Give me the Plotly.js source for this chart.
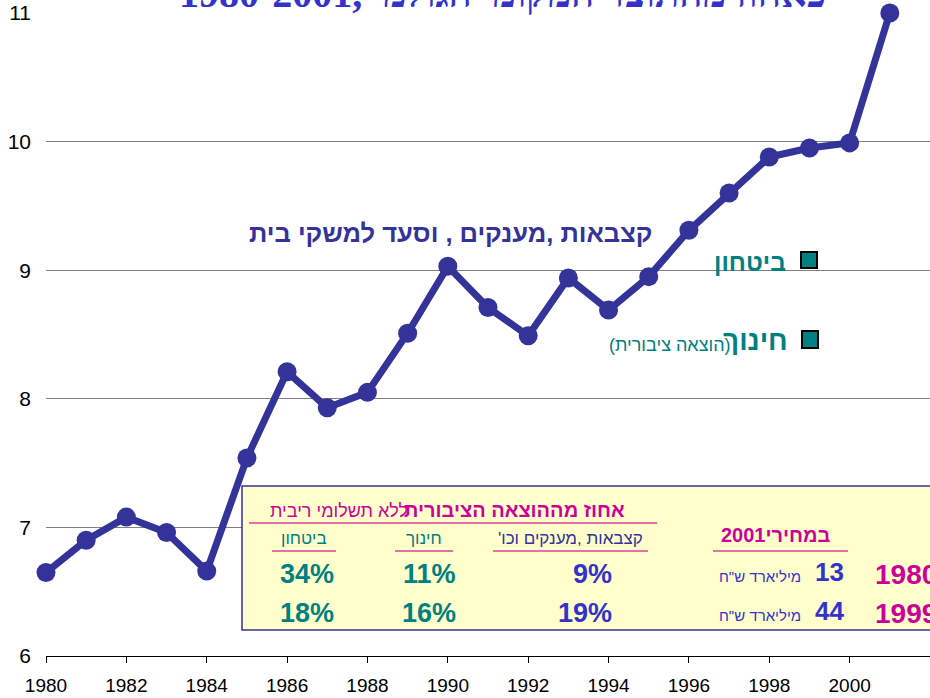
<!DOCTYPE html>
<html>
<head>
<meta charset="utf-8">
<script src="https://cdn.plot.ly/plotly-3.0.1.min.js"></script>
<style>html,body{margin:0;padding:0;background:#fff;}#chart{width:930px;height:698px;}</style>
</head>
<body>
<div id="chart"></div>
<script>
// ---- data ----
const years = [1980,1981,1982,1983,1984,1985,1986,1987,1988,1989,1990,1991,1992,1993,1994,1995,1996,1997,1998,1999,2000,2001];
const values = [6.65,6.90,7.08,6.96,6.66,7.54,8.21,7.93,8.05,8.51,9.03,8.71,8.49,8.94,8.69,8.95,9.31,9.60,9.88,9.95,9.99,11.0];
const xTickVals = [1980,1982,1984,1986,1988,1990,1992,1994,1996,1998,2000];
const yTickVals = [6,7,8,9,10,11];

const titleText = "1980-2001, כאחוז מהתוצר המקומי הגולמי";
const seriesLabel = "קצבאות ,מענקים , וסעד למשקי בית";
const legendDefense = "ביטחון";
const legendEducation = "חינוך";
const legendEducationNote = "(הוצאה ציבורית)";

const tableHeaderBold = "אחוז מההוצאה הציבורית";
const tableHeaderNote = "ללא תשלומי ריבית";
const colHeaders = ["ביטחון", "חינוך", "קצבאות ,מענקים וכו'\u200F"];
const rowYears = ["1980", "1999"];
const shareDefense = ["34%", "18%"];
const shareEducation = ["11%", "16%"];
const shareWelfare = ["9%", "19%"];
const pricesHeader = "במחירי2001";
const totals = ["13", "44"];
const unitLabel = "מיליארד ש\"ח";

// ---- colors ----
const NAVY = "#333399", BLUE = "#3333CC", TEAL = "#008080", MAG = "#CC0099", LINEMAG = "#E0409A";

// ---- pixel helpers (plot area: left 46, top 13, width 884, height 643) ----
const L = 46, T = 13, W = 884, H = 643;
const px = x => (x - L) / W;
const py = y => (T + H - y) / H;

const FONT = "Arial, 'Liberation Sans', sans-serif";

const ann = [];
function txt(text, x, y, opts) {
  ann.push(Object.assign({
    text: text, xref: "paper", yref: "paper", x: px(x), y: py(y),
    showarrow: false, xanchor: "center", yanchor: "middle",
    font: {family: FONT, size: 16, color: "#000"}
  }, opts || {}));
}

// title (mostly cut off above the chart)
txt(titleText, 503, 18, {yanchor: "bottom", font: {family: "'Liberation Serif', 'Times New Roman', serif", size: 40, color: BLUE, weight: "bold"}});
// series label
txt(seriesLabel, 450, 233, {font: {family: FONT, size: 25.5, color: NAVY, weight: "bold"}});
// legend-like labels
txt(legendDefense, 788, 262, {xanchor: "right", font: {family: FONT, size: 24.5, color: TEAL, weight: "bold"}});
txt(legendEducation, 790, 340, {xanchor: "right", font: {family: FONT, size: 28, color: TEAL, weight: "bold"}});
txt(legendEducationNote, 733, 345, {xanchor: "right", font: {family: FONT, size: 18, color: TEAL}});

// table
txt(tableHeaderBold, 627, 510, {xanchor: "right", font: {family: FONT, size: 20, color: MAG, weight: "bold"}});
txt(tableHeaderNote, 410, 511, {xanchor: "right", font: {family: FONT, size: 18, color: MAG}});
txt(colHeaders[0], 304, 538, {font: {family: FONT, size: 17, color: TEAL}});
txt(colHeaders[1], 424, 538, {font: {family: FONT, size: 17, color: TEAL}});
txt(colHeaders[2], 570, 538, {font: {family: FONT, size: 17, color: NAVY}});
txt(pricesHeader, 776, 535, {font: {family: FONT, size: 20, color: MAG, weight: "bold"}});

const rowY = [574, 613];
for (let i = 0; i < 2; i++) {
  txt(shareDefense[i], 336, rowY[i], {xanchor: "right", font: {family: FONT, size: 27, color: TEAL, weight: "bold"}});
  txt(shareEducation[i], 458, rowY[i], {xanchor: "right", font: {family: FONT, size: 27, color: TEAL, weight: "bold"}});
  txt(shareWelfare[i], 614, rowY[i], {xanchor: "right", font: {family: FONT, size: 27, color: BLUE, weight: "bold"}});
  txt(totals[i], 846, rowY[i] - 2, {xanchor: "right", font: {family: FONT, size: 26, color: BLUE, weight: "bold"}});
  txt(unitLabel, 803, rowY[i] + 2, {xanchor: "right", font: {family: FONT, size: 15, color: BLUE}});
  txt(rowYears[i], 873, rowY[i], {xanchor: "left", font: {family: FONT, size: 28, color: MAG, weight: "bold"}});
}

function hline(x0, x1, y, color, width) {
  return {type: "line", xref: "paper", yref: "paper", x0: px(x0), x1: px(x1), y0: py(y), y1: py(y), line: {color: color, width: width}, layer: "above"};
}

const shapes = [
  // table box
  {type: "rect", xref: "paper", yref: "paper", x0: px(242), x1: px(945), y0: py(630), y1: py(486),
   fillcolor: "#FFFFCC", line: {color: NAVY, width: 1.5}, layer: "above"},
  hline(249, 657, 523, LINEMAG, 1.5),
  hline(272, 336, 551, LINEMAG, 1.5),
  hline(395, 453, 551, LINEMAG, 1.5),
  hline(493, 648, 551, LINEMAG, 1.5),
  hline(713, 848, 551, LINEMAG, 1.5),
  // legend squares
  {type: "rect", xref: "paper", yref: "paper", x0: px(801), x1: px(817), y0: py(268), y1: py(252),
   fillcolor: TEAL, line: {color: "#000", width: 2}, layer: "above"},
  {type: "rect", xref: "paper", yref: "paper", x0: px(802), x1: px(818), y0: py(348), y1: py(331),
   fillcolor: TEAL, line: {color: "#000", width: 2}, layer: "above"}
];

const trace = {
  x: years, y: values, type: "scatter", mode: "lines+markers",
  line: {color: NAVY, width: 7},
  marker: {color: NAVY, size: 19},
  cliponaxis: false, hoverinfo: "skip"
};

const layout = {
  width: 930, height: 698,
  margin: {l: L, r: 930 - L - W, t: T, b: 698 - T - H, pad: 0},
  paper_bgcolor: "#fff", plot_bgcolor: "#fff",
  showlegend: false,
  xaxis: {
    range: [1980, 2002], tickvals: xTickVals, ticktext: xTickVals.map(String),
    showgrid: false, zeroline: false, showline: true, linecolor: "#000", linewidth: 1,
    ticks: "outside", ticklen: 6, tickcolor: "#000", tickwidth: 1, ticklabelstandoff: 6,
    tickfont: {family: FONT, size: 19, color: "#000"}, fixedrange: true
  },
  yaxis: {
    range: [6, 11], tickvals: yTickVals, ticktext: yTickVals.map(String),
    showgrid: true, gridcolor: "#808080", gridwidth: 1, zeroline: false, showline: false,
    ticks: "", ticklabelstandoff: 14,
    tickfont: {family: FONT, size: 21, color: "#000"}, fixedrange: true
  },
  annotations: ann,
  shapes: shapes
};

Plotly.newPlot("chart", [trace], layout, {displayModeBar: false, staticPlot: true});
</script>
</body>
</html>
